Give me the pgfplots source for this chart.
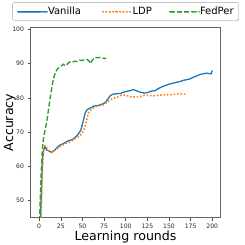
\documentclass[border=0pt]{standalone}
\usepackage{pgfplots}
\pgfplotsset{compat=1.18}
\usetikzlibrary{shadows}
\usepackage{fontspec}
\setmainfont{DejaVu Sans}
\definecolor{mplblue}{HTML}{1F77B4}
\definecolor{mplorange}{HTML}{FF7F0E}
\definecolor{mplgreen}{HTML}{2CA02C}
\begin{document}
\begin{tikzpicture}
\begin{axis}[
  scale only axis,
  width=190.2pt, height=190.4pt,
  xmin=-10, xmax=209.7,
  ymin=45, ymax=100.6,
  xtick={0,25,50,75,100,125,150,175,200},
  ytick={50,60,70,80,90,100},
  tick align=outside,
  tick pos=left,
  major tick length=3pt,
  every tick/.style={black!70, line width=0.5pt},
  axis line style={black!60, line width=0.6pt},
  /pgf/number format/assume math mode=true,
  ticklabel style={font=\fontsize{6.1}{7}\selectfont, text=black!85},
  xlabel={Learning rounds},
  ylabel={Accuracy},
  label style={font=\fontsize{12.6}{14}\selectfont, inner sep=0pt},
  xlabel style={at={(axis description cs:0.5,0)}, anchor=north, yshift=-13.5pt},
  ylabel style={at={(axis description cs:-0.0762,0.5)}, anchor=south, rotate=0},
  legend columns=3,
  legend style={at={(0.5,1)}, anchor=south, yshift=6.6pt,
    font=\fontsize{10}{12}\selectfont, draw=black!35, rounded corners=1.5pt,
    inner ysep=1.5pt, inner xsep=4pt, column sep=0pt,
    nodes={inner xsep=0pt, inner ysep=3pt},
    drop shadow={shadow xshift=0.7pt, shadow yshift=-0.7pt, fill=black!25}},
  legend image code/.code={\draw[#1] (0pt,0pt) -- (22pt,0pt); \path (0pt,0pt) -- (30pt,0pt);},
]
\addplot[mplblue, line width=1.3pt] coordinates {
(1,40) (2,48) (3,55) (3.9,61.9) (5,64.5) (6.6,65.7) (8.5,64.8) (11,64.5) (14.3,64.1) (18.1,64.8)
(21,65.5) (23.9,66.2) (27,66.5) (31.7,67.2) (34,67.5) (37.5,67.7) (41,68.3) (45.1,69.4) (48.2,70.6)
(50,72.3) (51.7,74) (53,75.5) (54.8,76.4) (57,76.8) (60.6,77.2) (63,77.6) (66.4,77.7) (70,77.9) (74.1,78.3)
(77,78.8) (79.8,79.8) (82,80.6) (85.5,81.1) (90,81.2) (94,81.3) (97.1,81.6) (101,81.9) (105,82.1) (108.7,82.4)
(112,82.1) (116,81.7) (119,81.5) (122.2,81.4) (126,81.6) (130,82.0) (133.8,82.1) (137,82.6) (140,83.0) (143.4,83.4)
(147,83.7) (150,84.0) (154.9,84.3) (158,84.5) (162,84.7) (166.5,85.1) (170,85.3) (174,85.5) (178,86.0) (182,86.4)
(185.8,86.8) (189,87.0) (193.5,87.2) (196,87.1) (198.6,87.0) (200,88.0)
};
\addlegendentry{\makebox[53pt][l]{Vanilla}}
\addplot[mplorange, line width=1.6pt, dash pattern=on 1.5pt off 1.9pt] coordinates {
(2,40) (3,52) (3.5,58) (4.5,63) (5.4,65.7) (7,66.0) (8.5,65.5) (11,64.6) (15.5,64.1) (19,64.9)
(23.9,65.7) (28,66.3) (32,66.8) (35.5,67.1) (40,67.8) (44,68.4) (47,68.9) (50.9,70.2) (52.5,71.3) (54,72.6)
(55.5,74.2) (56.7,75.5) (59,76.3) (61,76.8) (64.4,77.3) (68,77.6) (71,77.8) (74.1,77.9) (78,78.6) (81.8,79.4)
(86,79.9) (91.3,80.3) (95,80.8) (99,80.8) (102,80.6) (106.8,80.2) (111,80.3) (116.4,80.3) (119,80.6) (122.2,80.8)
(127,80.7) (133.8,80.6) (140,80.8) (147.3,80.9) (152,80.9) (157,81.1) (162.7,81.2) (167,81.1) (171,81.0)
};
\addlegendentry{\makebox[36pt][l]{LDP}}
\addplot[mplgreen, line width=1.4pt, dash pattern=on 5pt off 2.2pt] coordinates {
(0.5,44) (1.5,52) (2.7,59.9) (3.5,64) (4.7,67.7) (6.5,70.2) (8.5,72.6) (10.5,76) (12.4,79.4) (14.3,82.5)
(16.2,85.2) (18.2,87) (20.1,88.1) (23.9,89.1) (26,89.4) (28,89.8) (30,89.4) (31.7,89.6) (33.5,90.1) (35.5,90.5)
(38,90.4) (41,90.7) (44,90.6) (47,91.0) (50,90.9) (52,91.1) (55.5,91.2) (57.5,90.8) (59.4,90.0) (61,90.9)
(64.4,91.8) (67,91.7) (70,91.8) (73,91.6) (77.5,91.5)
};
\addlegendentry{\makebox[34.5pt][l]{FedPer}}
\end{axis}
\pgfresetboundingbox
\path (current axis.south west) ++(-30.5pt,-27.3pt) rectangle ++(245pt,245pt);
\end{tikzpicture}
\end{document}
